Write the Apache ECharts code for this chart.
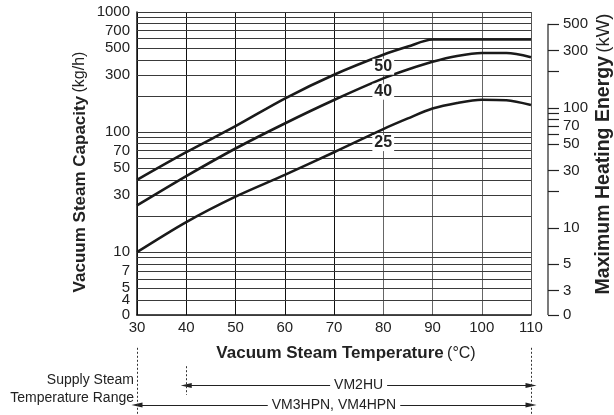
<!DOCTYPE html>
<html>
<head>
<meta charset="utf-8">
<script src="https://cdn.jsdelivr.net/npm/echarts@6/dist/echarts.min.js"></script>
<style>
html, body { margin: 0; padding: 0; background: #fff; }
#chart { width: 614px; height: 415px; }
</style>
</head>
<body>
<div id="chart"></div>
<script>
// vacuum steam temperature (°C)
var temps = [30, 40, 50, 60, 70, 80, 85, 90, 95, 100, 105, 110];
// vacuum steam capacity (kg/h) for each curve
var cap50 = [40, 68, 112, 190, 300, 440, 515, 590, 590, 590, 590, 590];
var cap40 = [24.5, 43, 73, 118, 185, 280, 332, 385, 430, 455, 455, 420];
var cap25 = [10, 17.8, 29, 44, 68, 106, 130, 157, 175, 186, 184, 168];
var curveNames = ['50', '40', '25'];
// where the curve numbers are written (°C, kg/h)
var curveLabelAt = [[80, 350], [80, 217], [80, 81]];

// left axis lines and their labels (bottom line is printed as 0)
var capLines = [3, 4, 5, 6, 7, 8, 9, 10, 20, 30, 40, 50, 60, 70, 80, 90,
                100, 200, 300, 400, 500, 600, 700, 800, 900, 1000];
var capLabels = { 1000: '1000', 700: '700', 500: '500', 300: '300', 100: '100',
                  70: '70', 50: '50', 30: '30', 10: '10', 7: '7', 5: '5', 4: '4', 3: '0' };

// right axis, kW
var kwPerKgh = 0.627;
var kwMin = 3 * kwPerKgh, kwMax = 1000 * kwPerKgh;
var kwTicks = [500, 300, 200, 100, 90, 80, 70, 60, 50, 30, 20, 10, 5, 3];
var kwLabels = { 500: '500', 300: '300', 100: '100', 70: '70', 50: '50',
                 30: '30', 10: '10', 5: '5', 3: '3' };
var kwTop = 500;

// supply steam temperature ranges (°C)
var rangeNames = ['VM2HU', 'VM3HPN, VM4HPN'];
var rangeFrom = [40, 30];
var rangeTo = [110, 110];

// layout of the bottom annotation strip (0 = bottom, 1 = top)
var rowY = [0.37, 0.125];
var FONT = 'Liberation Sans, Arial, sans-serif';

var chart = echarts.init(document.getElementById('chart'));

function curve(name, vals, at) {
  return {
    name: name,
    type: 'line',
    xAxisIndex: 0, yAxisIndex: 0,
    data: temps.map(function (t, i) { return [t, vals[i]]; }),
    smooth: 0.3,
    symbol: 'none',
    z: 3,
    lineStyle: { color: '#1a1a1a', width: 2.6 },
    markPoint: {
      silent: true,
      symbol: 'rect', symbolSize: 1,
      itemStyle: { color: 'rgba(0,0,0,0)' },
      label: {
        show: true, position: 'inside', formatter: name,
        fontFamily: FONT, fontSize: 16, fontWeight: 'bold', color: '#222',
        backgroundColor: '#fff', padding: [0, 2]
      },
      data: [{ coord: at }]
    }
  };
}

var gridLines = capLines.map(function (v) {
  return {
    yAxis: v,
    lineStyle: { color: '#3a3a3a', width: 1, type: 'solid' },
    label: {
      show: capLabels[v] !== undefined, position: 'start', distance: 7,
      formatter: capLabels[v] || '', fontFamily: FONT, fontSize: 15, color: '#222'
    }
  };
});

var kwTickLines = kwTicks.concat([kwMin]).map(function (v) {
  var txt = v === kwMin ? '0' : (kwLabels[v] || '');
  return [
    { coord: [0, v], label: { show: txt !== '', formatter: txt } },
    { coord: [1, v] }
  ];
});

var arrows = rangeNames.map(function (n, i) {
  return [
    { coord: [rangeFrom[i], rowY[i]], label: { formatter: n } },
    { coord: [rangeTo[i], rowY[i]] }
  ];
});

var dashes = [
  [{ coord: [30, 0.84] }, { coord: [30, 0] }],
  [{ coord: [110, 0.84] }, { coord: [110, 0] }],
  [{ coord: [40, 0.61] }, { coord: [40, 0.25] }]
];

function rich(size) {
  return {
    b: { fontFamily: FONT, fontSize: size, fontWeight: 'bold', fill: '#222', color: '#222' },
    n: { fontFamily: FONT, fontSize: size - 1, fill: '#222', color: '#222' }
  };
}

function sideTitle(text, x, y, size) {
  return {
    type: 'text', x: x, y: y, rotation: Math.PI / 2,
    style: { text: text, rich: rich(size), align: 'center', verticalAlign: 'middle' }
  };
}

var option = {
  backgroundColor: '#fff',
  animation: false,
  textStyle: { fontFamily: FONT },
  grid: [
    { left: 137, top: 12, width: 394, height: 303 },
    { left: 548, top: 12, width: 11, height: 303 },
    { left: 137, top: 335, width: 394, height: 80 }
  ],
  xAxis: [
    {
      type: 'value', gridIndex: 0, min: 30, max: 110, interval: 10,
      axisLine: { show: true, lineStyle: { color: '#111', width: 1.5 } },
      axisTick: { show: false },
      axisLabel: { fontFamily: FONT, fontSize: 15, color: '#222', margin: 5 },
      splitLine: {
        show: true,
        lineStyle: { width: 1,
          color: ['#111', '#111', '#111', '#111', '#111', '#666', '#666', '#666', '#555'] }
      },
      name: '{b|Vacuum Steam Temperature} {n|(°C)}',
      nameLocation: 'middle', nameGap: 30,
      nameTextStyle: { padding: [0, 0, 0, 24], rich: rich(17) }
    },
    { type: 'value', gridIndex: 1, min: 0, max: 1, show: false },
    { type: 'value', gridIndex: 2, min: 30, max: 110, show: false }
  ],
  yAxis: [
    {
      type: 'log', logBase: 10, gridIndex: 0, min: 3, max: 1000,
      axisLine: { show: true, lineStyle: { color: '#111', width: 1.5 } },
      axisTick: { show: false },
      axisLabel: { show: false },
      splitLine: { show: false }
    },
    {
      type: 'log', logBase: 10, gridIndex: 1, min: kwMin, max: kwMax,
      show: false
    },
    { type: 'value', gridIndex: 2, min: 0, max: 1, show: false }
  ],
  series: [
    {
      type: 'line', xAxisIndex: 0, yAxisIndex: 0, data: [],
      markLine: {
        silent: true, animation: false, z: 1,
        symbol: ['none', 'none'],
        data: gridLines
      }
    },
    curve(curveNames[0], cap50, curveLabelAt[0]),
    curve(curveNames[1], cap40, curveLabelAt[1]),
    curve(curveNames[2], cap25, curveLabelAt[2]),
    {
      // right hand kW scale
      type: 'line', xAxisIndex: 1, yAxisIndex: 1,
      data: [[0, kwTop], [0, kwMin]],
      symbol: 'none',
      lineStyle: { color: '#222', width: 1.2 },
      markLine: {
        silent: true, animation: false,
        symbol: ['none', 'none'],
        lineStyle: { color: '#222', width: 1.2, type: 'solid' },
        label: { position: 'end', distance: 4, fontFamily: FONT, fontSize: 15, color: '#222' },
        data: kwTickLines
      }
    },
    {
      // supply steam temperature range arrows
      type: 'line', xAxisIndex: 2, yAxisIndex: 2, data: [],
      markLine: {
        silent: true, animation: false,
        symbol: ['triangle', 'triangle'], symbolSize: [5, 11],
        lineStyle: { color: '#222', width: 1.2, type: 'solid' },
        itemStyle: { color: '#222' },
        label: {
          show: true, position: 'middle', distance: 0, verticalAlign: 'middle',
          fontFamily: FONT, fontSize: 14, color: '#222',
          backgroundColor: '#fff', padding: [0, 4]
        },
        data: arrows
      }
    },
    {
      type: 'line', xAxisIndex: 2, yAxisIndex: 2, data: [],
      markLine: {
        silent: true, animation: false,
        symbol: ['none', 'none'],
        lineStyle: { color: '#333', width: 1, type: [2, 2] },
        label: { show: false },
        data: dashes
      }
    }
  ],
  graphic: [
    sideTitle('{b|Vacuum Steam Capacity} {n|(kg/h)}', 80, 172, 17),
    sideTitle('{b|Maximum Heating Energy} {n|(kW)}', 604, 154, 19.5),
    {
      type: 'text', x: 134, y: 371,
      style: {
        text: 'Supply Steam\nTemperature Range',
        align: 'right', lineHeight: 18,
        font: '14px ' + FONT, fill: '#222'
      }
    }
  ]
};

chart.setOption(option);
</script>
</body>
</html>
